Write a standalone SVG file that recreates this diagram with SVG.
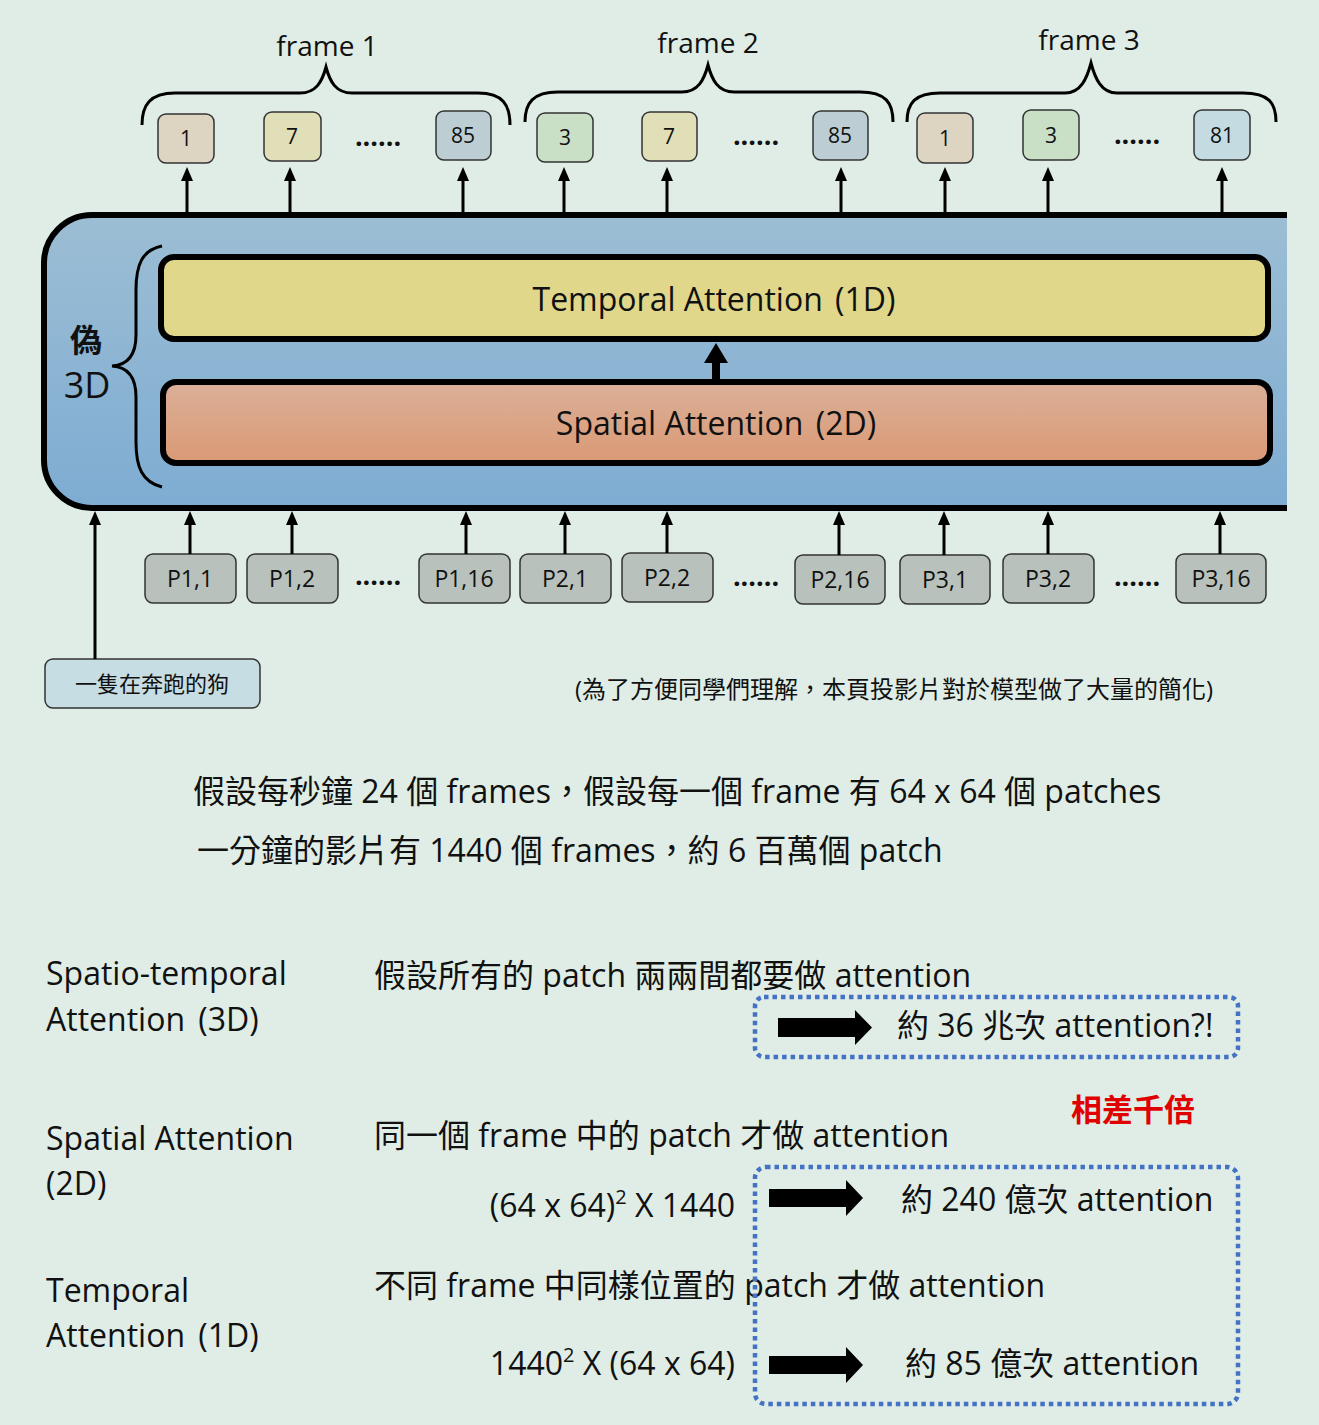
<svg xmlns="http://www.w3.org/2000/svg" width="1319" height="1425" viewBox="0 0 1319 1425">
<defs>
<linearGradient id="blueG" x1="0" y1="0" x2="0" y2="1">
<stop offset="0" stop-color="#9cbed4"/><stop offset="1" stop-color="#7eacd2"/>
</linearGradient>
<linearGradient id="orG" x1="0" y1="0" x2="0" y2="1">
<stop offset="0" stop-color="#dbb098"/><stop offset="1" stop-color="#da9975"/>
</linearGradient>
<marker id="ah" markerUnits="userSpaceOnUse" markerWidth="14" markerHeight="12" viewBox="0 0 14 12" refX="8" refY="6" orient="auto">
<path d="M0,0 L14,6 L0,12 z" fill="#000"/>
</marker>
<style>
text{font-family:'Open Sans','Noto Sans CJK TC',sans-serif;fill:#111;}
.big{font-size:32px;}
.fl{font-size:28px;text-anchor:middle;}
.num{font-size:21px;text-anchor:middle;}
.pl{font-size:23px;text-anchor:middle;}
.dots{font-size:27px;text-anchor:middle;font-weight:bold;}
.fbox{stroke:#333;stroke-width:1.5;}
.pbox{fill:#b8c1bb;stroke:#333;stroke-width:1.5;}
.brace{fill:none;stroke:#000;stroke-width:3;}
.conn{stroke:#000;stroke-width:3;fill:none;marker-end:url(#ah);}
.dotted{fill:none;stroke:#4472c4;stroke-width:4.5;stroke-dasharray:4.5 4;}
</style>
</defs>
<rect width="1319" height="1425" fill="#dfede6"/>

<g id="frame-braces">
<path class="brace" d="M142,125 C142,105 150,93 175,93 L300,93 C316,93 322,82 326,67 C330,82 336,93 352,93 L478,93 C503,93 510,105 510,125"/>
<text class="fl" x="327" y="56">frame 1</text>
<path class="brace" d="M525,122 C525,103 533,92 558,92 L682,92 C698,92 704,80 708,65 C712,80 718,92 734,92 L860,92 C886,92 893,103 893,122"/>
<text class="fl" x="708" y="53">frame 2</text>
<path class="brace" d="M907,122 C907,103 915,93 940,93 L1065,93 C1081,93 1087,78 1091,63 C1095,78 1101,93 1117,93 L1243,93 C1269,93 1276,103 1276,122"/>
<text class="fl" x="1089" y="50">frame 3</text>
</g>

<g id="output-tokens">
<g id="tok-f1-1"><rect class="fbox" x="158" y="114" width="56" height="49" rx="8" fill="#ddd4c2"/><text class="num" x="186" y="146">1</text></g>
<g id="tok-f1-7"><rect class="fbox" x="264" y="112" width="57" height="49" rx="8" fill="#e1dfb8"/><text class="num" x="292" y="144">7</text></g>
<text class="dots" x="378" y="146">......</text>
<g id="tok-f1-85"><rect class="fbox" x="436" y="111" width="55" height="49" rx="8" fill="#bccdd3"/><text class="num" x="463" y="143">85</text></g>
<g id="tok-f2-3"><rect class="fbox" x="537" y="113" width="56" height="49" rx="8" fill="#c9e0c6"/><text class="num" x="565" y="145">3</text></g>
<g id="tok-f2-7"><rect class="fbox" x="642" y="112" width="55" height="49" rx="8" fill="#e1dfb8"/><text class="num" x="669" y="144">7</text></g>
<text class="dots" x="756" y="145">......</text>
<g id="tok-f2-85"><rect class="fbox" x="813" y="111" width="55" height="49" rx="8" fill="#bccdd3"/><text class="num" x="840" y="143">85</text></g>
<g id="tok-f3-1"><rect class="fbox" x="917" y="113" width="56" height="50" rx="8" fill="#ddd4c2"/><text class="num" x="945" y="146">1</text></g>
<g id="tok-f3-3"><rect class="fbox" x="1023" y="110" width="56" height="50" rx="8" fill="#c9e0c6"/><text class="num" x="1051" y="143">3</text></g>
<text class="dots" x="1137" y="144">......</text>
<g id="tok-f3-81"><rect class="fbox" x="1194" y="110" width="56" height="50" rx="8" fill="#c4dbe1"/><text class="num" x="1222" y="143">81</text></g>
</g>

<g id="pseudo3d">
<path d="M1287,215 H92 A48,48 0 0 0 44,263 V460 A48,48 0 0 0 92,508 H1287" fill="url(#blueG)" stroke="#000" stroke-width="6"/>
<path class="brace" d="M162,246 C142,250 136,265 136,290 L136,335 C136,355 128,365 112,366 C128,367 136,377 136,397 L136,442 C136,467 142,482 162,487"/>
<text x="86" y="352" style="font-size:32px;font-weight:bold;text-anchor:middle;">偽</text>
<text x="87" y="398" style="font-size:36px;text-anchor:middle;">3D</text>
</g>

<g id="temporal-attention">
<rect x="161" y="257" width="1107" height="82" rx="13" fill="#e0d78a" stroke="#000" stroke-width="6"/>
<text class="big" x="714" y="311" text-anchor="middle">Temporal Attention<tspan dx="4"> (1D)</tspan></text>
</g>

<g id="spatial-attention">
<rect x="163" y="382" width="1107" height="81" rx="13" fill="url(#orG)" stroke="#000" stroke-width="6"/>
<text class="big" x="716" y="435" text-anchor="middle">Spatial Attention<tspan dx="4"> (2D)</tspan></text>
</g>

<g id="patches">
<g id="p11"><rect class="pbox" x="145" y="554" width="91" height="49" rx="8"/><text class="pl" x="190" y="587">P1,1</text></g>
<g id="p12"><rect class="pbox" x="247" y="554" width="91" height="49" rx="8"/><text class="pl" x="292" y="587">P1,2</text></g>
<text class="dots" x="378" y="585">......</text>
<g id="p116"><rect class="pbox" x="419" y="554" width="91" height="49" rx="8"/><text class="pl" x="464" y="587">P1,16</text></g>
<g id="p21"><rect class="pbox" x="520" y="554" width="91" height="49" rx="8"/><text class="pl" x="565" y="587">P2,1</text></g>
<g id="p22"><rect class="pbox" x="622" y="553" width="91" height="49" rx="8"/><text class="pl" x="667" y="586">P2,2</text></g>
<text class="dots" x="756" y="586">......</text>
<g id="p216"><rect class="pbox" x="795" y="555" width="90" height="49" rx="8"/><text class="pl" x="840" y="588">P2,16</text></g>
<g id="p31"><rect class="pbox" x="900" y="555" width="90" height="49" rx="8"/><text class="pl" x="945" y="588">P3,1</text></g>
<g id="p32"><rect class="pbox" x="1003" y="554" width="91" height="49" rx="8"/><text class="pl" x="1048" y="587">P3,2</text></g>
<text class="dots" x="1137" y="586">......</text>
<g id="p316"><rect class="pbox" x="1176" y="554" width="90" height="49" rx="8"/><text class="pl" x="1221" y="587">P3,16</text></g>
</g>

<g id="prompt">
<rect x="45" y="659" width="215" height="49" rx="8" fill="#c6dde3" stroke="#333" stroke-width="1.5"/>
<text x="152" y="692" style="font-size:22px;text-anchor:middle;">一隻在奔跑的狗</text>
</g>

<g id="connectors">
<line class="conn" x1="187" y1="212" x2="187" y2="173"/>
<line class="conn" x1="290" y1="212" x2="290" y2="173"/>
<line class="conn" x1="463" y1="212" x2="463" y2="173"/>
<line class="conn" x1="564" y1="212" x2="564" y2="173"/>
<line class="conn" x1="667" y1="212" x2="667" y2="173"/>
<line class="conn" x1="841" y1="212" x2="841" y2="173"/>
<line class="conn" x1="945" y1="212" x2="945" y2="173"/>
<line class="conn" x1="1048" y1="212" x2="1048" y2="173"/>
<line class="conn" x1="1222" y1="212" x2="1222" y2="173"/>
<line class="conn" x1="190" y1="554" x2="190" y2="517"/>
<line class="conn" x1="292" y1="554" x2="292" y2="517"/>
<line class="conn" x1="466" y1="554" x2="466" y2="517"/>
<line class="conn" x1="565" y1="554" x2="565" y2="517"/>
<line class="conn" x1="667" y1="553" x2="667" y2="517"/>
<line class="conn" x1="839" y1="555" x2="839" y2="517"/>
<line class="conn" x1="944" y1="555" x2="944" y2="517"/>
<line class="conn" x1="1048" y1="554" x2="1048" y2="517"/>
<line class="conn" x1="1220" y1="554" x2="1220" y2="517"/>
<line class="conn" x1="95" y1="659" x2="95" y2="517"/>
<polygon points="712,381 720,381 720,363 728,363 716,343 704,363 712,363" fill="#000"/>
</g>

<text x="575" y="698" style="font-size:24px;">(為了方便同學們理解，本頁投影片對於模型做了大量的簡化)</text>

<g id="intro-text">
<text class="big" x="193" y="803">假設每秒鐘 24 個 frames，假設每一個 frame 有 64 x 64 個 patches</text>
<text class="big" x="197" y="862">一分鐘的影片有 1440 個 frames，約 6 百萬個 patch</text>
</g>

<g id="labels">
<text class="big" x="46" y="985">Spatio-temporal</text>
<text class="big" x="46" y="1031">Attention<tspan dx="5"> (3D)</tspan></text>
<text class="big" x="46" y="1150">Spatial Attention</text>
<text class="big" x="46" y="1195">(2D)</text>
<text class="big" x="46" y="1302">Temporal</text>
<text class="big" x="46" y="1347">Attention<tspan dx="5"> (1D)</tspan></text>
</g>

<g id="descriptions">
<text class="big" x="374" y="987">假設所有的 patch 兩兩間都要做 attention</text>
<text class="big" x="374" y="1147">同一個 frame 中的 patch 才做 attention</text>
<text class="big" x="735" y="1217" text-anchor="end">(64 x 64)<tspan style="font-size:20px;" dy="-13">2</tspan><tspan dy="13"> X 1440</tspan></text>
<text class="big" x="374" y="1297">不同 frame 中同樣位置的 patch 才做 attention</text>
<text class="big" x="735" y="1375" text-anchor="end">1440<tspan style="font-size:20px;" dy="-13">2</tspan><tspan dy="13"> X (64 x 64)</tspan></text>
</g>

<g id="result-3d">
<rect class="dotted" x="755" y="997" width="483" height="60" rx="9"/>
<polygon points="778,1018 855,1018 855,1010 872,1027.5 855,1045 855,1037 778,1037" fill="#000"/>
<text class="big" x="897" y="1037">約 36 兆次 attention?!</text>
</g>

<text x="1071" y="1121" style="font-size:31px;font-weight:bold;fill:#e00000;">相差千倍</text>

<g id="result-2d-1d">
<rect class="dotted" x="755" y="1167" width="483" height="237" rx="11"/>
<polygon points="769,1189 846,1189 846,1180 863,1198 846,1216 846,1207 769,1207" fill="#000"/>
<text class="big" x="901" y="1211">約 240 億次 attention</text>
<polygon points="769,1356 846,1356 846,1347 863,1365 846,1383 846,1374 769,1374" fill="#000"/>
<text class="big" x="905" y="1375">約 85 億次 attention</text>
</g>
</svg>
